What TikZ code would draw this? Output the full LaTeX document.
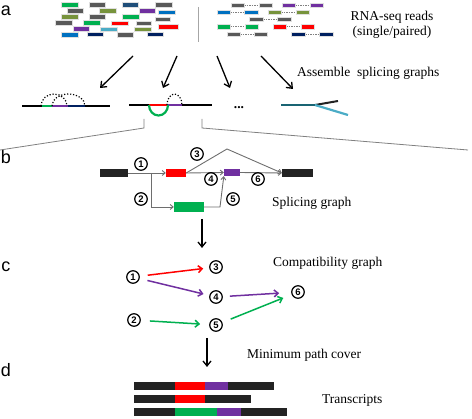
\documentclass[tikz,border=0pt]{standalone}
\usepackage{fontspec}
\setmainfont{Liberation Serif}
\newfontfamily\labelfont{Liberation Sans}
\usetikzlibrary{arrows.meta}
\definecolor{cblack}{RGB}{35,35,35}
\definecolor{cred}{RGB}{255,0,0}
\definecolor{cpurple}{RGB}{112,48,160}
\definecolor{cgreen}{RGB}{0,176,80}
\definecolor{cgray}{RGB}{89,89,89}
\definecolor{colive}{RGB}{119,147,60}
\definecolor{cblue}{RGB}{0,112,192}
\definecolor{cteal}{RGB}{75,172,198}
\definecolor{cnavy}{RGB}{0,32,96}
\definecolor{cnavyteal}{RGB}{31,78,121}
\definecolor{cdteal}{RGB}{25,100,115}
\definecolor{cedge}{RGB}{110,110,110}
\begin{document}
\begin{tikzpicture}[x=1pt,y=-1pt,
  readbox/.style={draw=white!75!gray,line width=0.3},
  pairdash/.style={draw=gray,line width=0.8,dash pattern=on 1.5pt off 1pt},
  bigarrow/.style={-{Straight Barb[length=5pt,width=8pt]},line width=1.3,black},
  edge/.style={-{Straight Barb[length=3pt,width=5pt]},line width=0.9,draw=cedge},
  exon/.style={draw=none,inner sep=0,minimum height=8},
  numc/.style={circle,draw,line width=1.2,minimum size=12.5,inner sep=0,
    font=\labelfont\fontsize{9.5}{9.5}\selectfont\bfseries},
  compat/.style={-{Straight Barb[length=4pt,width=7pt]},line width=1.5},
  lbl/.style={font=\fontsize{13.5}{15}\selectfont,inner sep=0},
  sec/.style={font=\labelfont\fontsize{18}{18}\selectfont,inner sep=0},
  dotarc/.style={line width=1.2,dash pattern=on 1.2pt off 1.8pt}
]
\useasboundingbox (0,0) rectangle (472,419);

% ---------- section labels ----------
\node[sec] (la) at (6,11) {a};
\node[sec] (lb) at (6,157) {b};
\node[sec] (lc) at (6,267) {c};
\node[sec] (ld) at (6,370) {d};

% ---------- single reads ----------
\foreach \c/\a/\b/\y in {cgreen/61/78/4.5, cgray/89/105/4.5, cnavyteal/122/138/4.5, cgray/155/172/4.5,
  cgray/67/83/10.5, colive/99/116/10.5, cpurple/139/155/10.5, cblue/158/175/12,
  colive/61/78/16.5, cgray/89/105/16.5, cgreen/122/139/16.5, cgray/155/170/19,
  cgray/55/72/22.7, cgreen/83/100/22.7, cred/111/128/23.3, cgray/136/151/23.3, cred/158/178/26.7,
  cpurple/73/89/28.7, cteal/100/117/29.3, colive/134/151/29.3,
  cblue/61/78/34.7, cnavy/87/103/34, cgray/117/133/34.7, cnavy/147/163/34}
  \draw[readbox,fill=\c] (\a,\y-2.2) rectangle (\b,\y+2.2);

% separator
\draw[gray!70,line width=1] (198,7) -- (198,42);

% ---------- paired reads ----------
\foreach \c/\a/\b/\cc/\d/\y in {cgray/231/244/259/272/5, cpurple/282/295/310/323/5,
  cblue/217/230/244/258/12.3, colive/268/281/296/309/12.3,
  cgray/249/263/277/291/19.3,
  cgreen/217/230/245/258/26.7, cred/273/286/301/314/26.7,
  cgray/227/240/254/267/34, cnavy/291/305/319/333/34}
{
  \draw[pairdash] (\b,\y) -- (\cc,\y);
  \draw[readbox,fill=\c] (\a,\y-2.2) rectangle (\b,\y+2.2);
  \draw[readbox,fill=\c] (\cc,\y-2.2) rectangle (\d,\y+2.2);
}
\node[lbl,align=center] (rna) at (392,25) {RNA-seq reads\\(single/paired)};

% ---------- arrows to splicing graphs ----------
\coordinate (s1) at (133,56); \coordinate (t1) at (100,88);
\coordinate (s2) at (177,56); \coordinate (t2) at (163,88);
\coordinate (s3) at (217,56); \coordinate (t3) at (230,88);
\coordinate (s4) at (261,56); \coordinate (t4) at (293,89);
\draw[bigarrow] (s1) -- (t1);
\draw[bigarrow] (s2) -- (t2);
\draw[bigarrow] (s3) -- (t3);
\draw[bigarrow] (s4) -- (t4);
\node[lbl,anchor=west] (asm) at (297,73) {Assemble\ \ splicing graphs};

% ---------- splicing graph 1 ----------
\draw[line width=1.5,black] (22,106) -- (110,106);
\draw[line width=1.5,cgreen] (42,106) -- (52,106);
\draw[line width=1.5,cpurple] (52,106) -- (68,106);
\draw[line width=1.5,cnavy] (68,106) -- (85,106);
\draw[dotarc] (41,106) arc[start angle=180,end angle=360,x radius=13,y radius=12];
\draw[dotarc] (52,106) arc[start angle=180,end angle=360,x radius=16.5,y radius=12];

% ---------- splicing graph 2 ----------
\draw[line width=1.5,black] (129,105) -- (212,105);
\draw[line width=2.5,cred] (149,105) -- (167,105);
\draw[line width=1.8,cpurple] (167,105) -- (182,105);
\draw[dotarc] (167,105) arc[start angle=180,end angle=360,x radius=7.5,y radius=11];
\draw[line width=2.2,cgreen] (149,105) arc[start angle=180,end angle=0,x radius=9.5,y radius=10.5];

% dots
\node[lbl,anchor=base,font=\fontsize{13.5}{15}\selectfont\bfseries] (dots) at (239,109) {...};

% ---------- splicing graph 4 ----------
\coordinate (g4a) at (281,105);
\coordinate (g4b) at (315,105);
\coordinate (g4c) at (338,101);
\coordinate (g4d) at (348,115);
\draw[line width=2,cblack] (g4b) -- (g4c);
\draw[line width=2.2,cteal] (g4b) -- (g4d);
\draw[line width=2.2,cdteal] (g4a) -- (g4b);

% ---------- zoom lines ----------
\coordinate (z1) at (144,119); \coordinate (z2) at (144,128); \coordinate (z3) at (0,150);
\coordinate (z4) at (202,119); \coordinate (z5) at (202,128); \coordinate (z6) at (468,150);
\draw[gray,line width=0.8] (z1) -- (z2) -- (z3);
\draw[gray,line width=0.8] (z4) -- (z5) -- (z6);

% ---------- b: splicing graph ----------
\node[exon,fill=cblack,minimum width=28] (e1) at (114,173) {};
\node[exon,fill=cred,minimum width=20] (e2) at (176,173) {};
\node[exon,fill=cpurple,minimum width=16,minimum height=7] (e3) at (232,172.5) {};
\node[exon,fill=cblack,minimum width=31] (e4) at (297.5,173) {};
\node[exon,fill=cgreen,minimum width=30,minimum height=10] (e5) at (189,207) {};
\coordinate (br) at (151,173);
\coordinate (pk) at (227,149);
\coordinate (k5) at (220,207);
\draw[edge] (e1.east) -- (e2.west);
\draw[edge] (br) |- (e5.west);
\draw[edge] (e2.east) -- (e3.west);
\draw[edge] (e2.east) -- (pk) -- (e4.west);
\draw[edge] (e5.east) -- (k5) -- (e3.south west);
\draw[edge] (e3.east) -- (e4.west);
\node[numc] (n1) at (141,164) {1};
\node[numc] (n2) at (141,199) {2};
\node[numc] (n3) at (197,154) {3};
\node[numc] (n4) at (211,179) {4};
\node[numc] (n5) at (233,199) {5};
\node[numc] (n6) at (258,179) {6};
\node[lbl,anchor=west] (spl) at (272,203) {Splicing graph};

% arrow b -> c
\coordinate (bc1) at (202,219); \coordinate (bc2) at (202,248);
\draw[bigarrow] (bc1) -- (bc2);

% ---------- c: compatibility graph ----------
\node[numc] (c1) at (133,277) {1};
\node[numc] (c2) at (134,320) {2};
\node[numc] (c3) at (216,267) {3};
\node[numc] (c4) at (216,297) {4};
\node[numc] (c5) at (216,325) {5};
\node[numc] (c6) at (298,292) {6};
\draw[compat,cred,shorten <=8pt,shorten >=6pt] (c1) -- (c3);
\draw[compat,cpurple,shorten <=8pt,shorten >=6pt] (c1) -- (c4);
\draw[compat,cpurple,shorten <=7pt,shorten >=12pt] (c4) -- (c6);
\draw[compat,cgreen,shorten <=9pt,shorten >=9pt] (c2) -- (c5);
\draw[compat,cgreen,shorten <=9pt,shorten >=9pt] (c5) -- (c6);
\node[lbl,anchor=west] (cmp) at (273,263) {Compatibility graph};

% arrow c -> d
\coordinate (cd1) at (207,338); \coordinate (cd2) at (207,367);
\draw[bigarrow] (cd1) -- (cd2);
\node[lbl,anchor=west] (mpc) at (247,355) {Minimum path cover};

% ---------- d: transcripts ----------
\foreach \c/\a/\b/\y in {cblack/134/175/382, cred/175/205/382, cpurple/205/228/382, cblack/228/274/382,
  cblack/134/175/395.5, cred/175/205/395.5, cblack/205/251/395.5,
  cblack/134/175/408, cgreen/175/217/408, cpurple/217/241/408, cblack/241/287/408}
  \fill[\c] (\a,\y) rectangle (\b,\y+8);
\node[lbl,anchor=west] (trs) at (322,400) {Transcripts};
\end{tikzpicture}
\end{document}
